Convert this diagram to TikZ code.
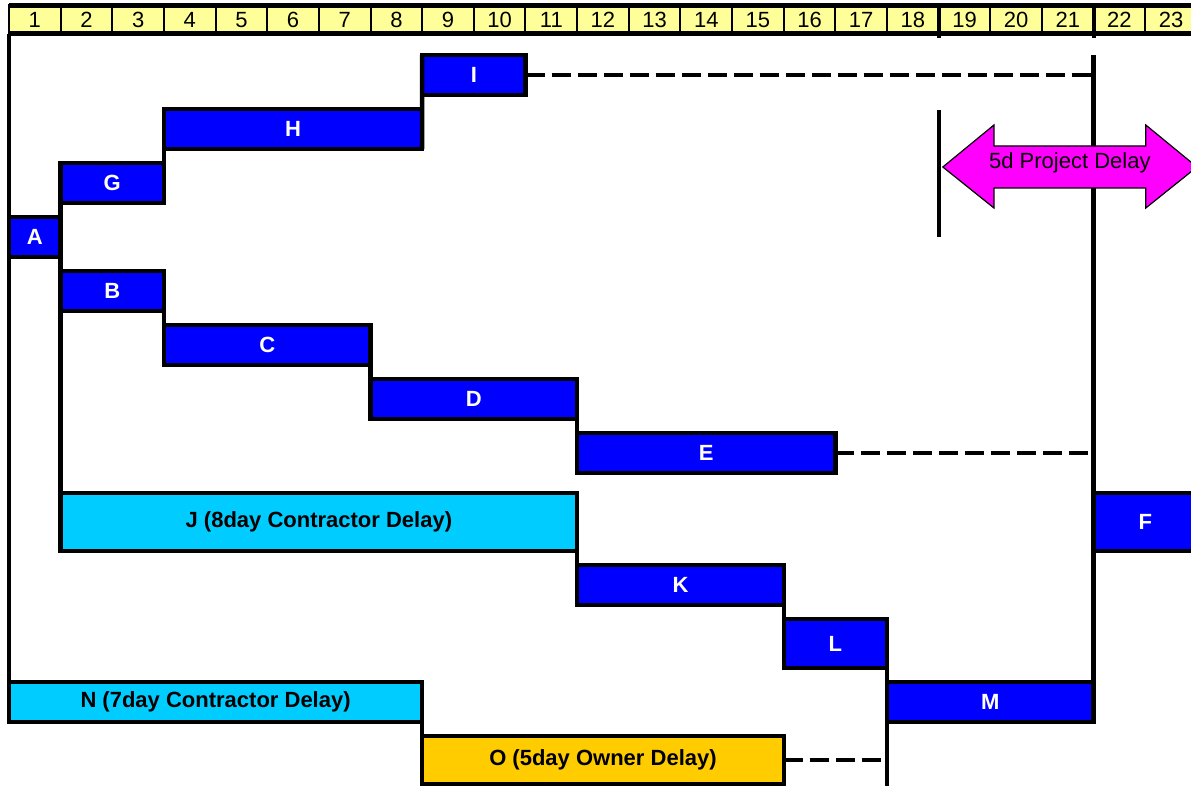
\documentclass[tikz,border=0pt]{standalone}
\usepackage{fontspec}
\setmainfont{Liberation Sans}
\usetikzlibrary{calc}
\definecolor{taskblue}{RGB}{0,0,255}
\definecolor{delaycyan}{RGB}{0,204,255}
\definecolor{owneramber}{RGB}{255,204,0}
\definecolor{dayyellow}{RGB}{255,255,153}
\definecolor{delaypink}{RGB}{255,0,255}

\begin{document}
\begin{tikzpicture}[
  x=25.825pt, y=-0.5pt,
  daycell/.style={draw, line width=1pt, fill=dayyellow, minimum width=25.825pt, minimum height=14.25pt, inner sep=0pt, outer sep=0pt, font=\fontsize{11}{13}\selectfont},
  task/.style={draw, line width=2.2pt, fill=taskblue, text=white, minimum height=20pt, inner sep=0pt, outer sep=0pt, font=\fontsize{11}{13}\selectfont\bfseries},
  contractor/.style={task, fill=delaycyan, text=black},
  owner/.style={task, fill=owneramber, text=black},
  days/.style={minimum width=#1*25.825pt},
  link/.style={line width=2.2pt},
  floatline/.style={line width=2.2pt, dash pattern=on 9.5pt off 3.5pt}
]
  \useasboundingbox (-0.1742,0) rectangle (22.885,786);

  % day scale
  \foreach \d in {1,...,23}
    \node[daycell] (h\d) at (\d-0.5,19.75) {\d};
  \draw[line width=2.5pt] (h1.north west) -- (h23.north east);
  \draw[line width=2.5pt] (h1.south west) -- (h23.south east);
  \foreach \d in {18,21}
    \draw[line width=2pt] (h\d.north east) -- ++(0,33);

  % activities
  \node[task, days=1] (A) at (0.5,237) {A};
  \node[task, days=2] (G) at (2,183) {G};
  \node[task, days=5] (H) at (5.5,129.25) {H};
  \node[task, days=2] (I) at (9,75.25) {I};
  \node[task, days=2] (B) at (2,291) {B};
  \node[task, days=4] (C) at (5,345) {C};
  \node[task, days=4] (D) at (9,399) {D};
  \node[task, days=5] (E) at (13.5,453) {E};
  \node[contractor, days=10, minimum height=29pt] (J) at (6,522) {J (8day Contractor Delay)};
  \node[task, days=2, minimum height=29pt] (F) at (22,522) {F};
  \node[task, days=4] (K) at (13,585) {K};
  \node[task, days=2, minimum height=24.5pt] (L) at (16,643.5) {L};
  \node[task, days=4, minimum height=20.25pt] (M) at (19,702) {M};
  \node[contractor, days=8, minimum height=20.25pt] (N) at (4,702) {N (7day Contractor Delay)};
  \node[owner, days=7, minimum height=24.25pt] (O) at (11.5,760) {O (5day Owner Delay)};

  % logic ties
  \draw[link] (h1.south west) -- (N.north west);
  \draw[link] (G.north west) -- (J.south west);
  \draw[link] (H.north west) -- (G.south east);
  \draw[link] (I.north west) -- (H.south east);
  \draw[link] (B.north east) -- (C.south west);
  \draw[link] (C.north east) -- (D.south west);
  \draw[link] (D.north east) -- (E.south west);
  \draw[link] (J.north east) -- (K.south west);
  \draw[link] (K.north east) -- (L.south west);
  \draw[link] (L.north east) -- (M.south west);
  \draw[link] (N.north east) -- (O.south west);
  \draw[link] (M.south east) -- (M.south east |- I.north);
  \coordinate (cut) at (17,788);
  \draw[link] (M.south west) -- (cut);

  % float
  \draw[floatline] (I.east) -- (I.east -| M.east);
  \draw[floatline] (E.east) -- (E.east -| M.east);
  \draw[floatline] (O.east) -- (O.east -| L.east);

  % project delay
  \coordinate (slip top) at (18,110);
  \coordinate (slip bot) at (18,237);
  \draw[link] (slip top) -- (slip bot);
  \filldraw[fill=delaypink, draw=black, line width=0.6pt] (18.08,167) -- (19.07,125) -- (19.07,146) -- (22.01,146) -- (22.01,125) -- (23,167) -- (22.01,208) -- (22.01,188) -- (19.07,188) -- (19.07,208) -- cycle;
  \node[font=\fontsize{11}{13}\selectfont] (slip) at (20.54,163) {5d Project Delay};
\end{tikzpicture}
\end{document}
